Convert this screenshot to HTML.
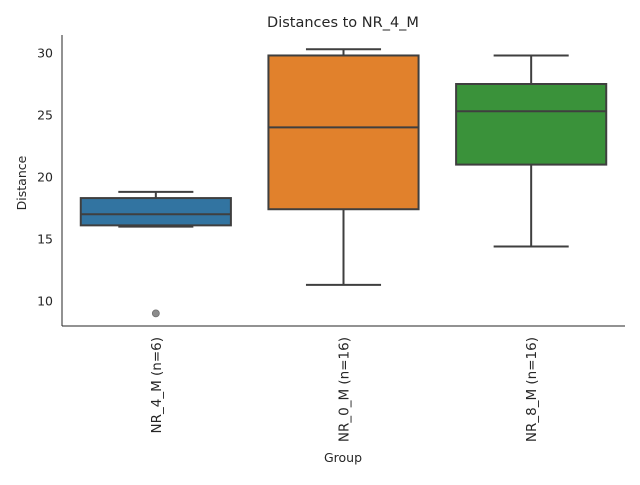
<!DOCTYPE html>
<html><head><meta charset="utf-8"><style>
body{margin:0;background:#fff;font-family:"Liberation Sans","DejaVu Sans",sans-serif}
svg text{font-family:"DejaVu Sans","Liberation Sans",sans-serif;fill:#262626}
</style></head><body>
<svg id="chart" width="640" height="480">
<text x="343" y="27" font-size="14.5" text-anchor="middle">Distances to NR_4_M</text>
<g id="ax"></g>
<text x="343" y="462" font-size="12.5" text-anchor="middle">Group</text>
<text transform="translate(26,183) rotate(-90)" font-size="12.5" text-anchor="middle">Distance</text>
</svg>
<script>
const categories=["NR_4_M (n=6)","NR_0_M (n=16)","NR_8_M (n=16)"];
const whiskerLow=[16.0,11.3,14.4];
const q1=[16.1,17.4,21.0];
const medians=[17.0,24.0,25.3];
const q3=[18.3,29.8,27.5];
const whiskerHigh=[18.8,30.3,29.8];
const outliers=[[9.0],[],[]];
const yTicks=[10,15,20,25,30];
const colors=["#3274a1","#e1812c","#3a923a"];
const L=62,R=625,T=35,B=326;
const y=v=>53+(30-v)*12.4;
const band=(R-L)/categories.length;
const xc=i=>L+band*(i+0.5);
const NS="http://www.w3.org/2000/svg";
const g=document.getElementById('ax');
function mk(t,a){const e=document.createElementNS(NS,t);for(const k in a)e.setAttribute(k,a[k]);g.appendChild(e);return e;}
let s=mk('line',{x1:L,y1:T,x2:L,y2:B,stroke:'#262626','stroke-width':1});


s=mk('line',{x1:L,y1:B,x2:R,y2:B,stroke:'#262626','stroke-width':1});


yTicks.forEach(v=>{
 const t=mk('text',{x:L-9,y:y(v)+4.5,'font-size':12.5,'text-anchor':'end'});t.textContent=v;
 
 
});
const lc='#3f3f3f',bw=band*0.8;
categories.forEach((c,i)=>{
 const x=xc(i);
 let e=mk('line',{x1:x,y1:y(whiskerLow[i]),x2:x,y2:y(q1[i]),stroke:lc,'stroke-width':2});
 
 
 e=mk('line',{x1:x,y1:y(whiskerHigh[i]),x2:x,y2:y(q3[i]),stroke:lc,'stroke-width':2});
 
 
 e=mk('line',{x1:x-bw/4,y1:y(whiskerLow[i]),x2:x+bw/4,y2:y(whiskerLow[i]),stroke:lc,'stroke-width':2});
 
 
 e=mk('line',{x1:x-bw/4,y1:y(whiskerHigh[i]),x2:x+bw/4,y2:y(whiskerHigh[i]),stroke:lc,'stroke-width':2});
 
 
 e=mk('rect',{x:x-bw/2,y:y(q3[i]),width:bw,height:y(q1[i])-y(q3[i]),fill:colors[i],stroke:lc,'stroke-width':2});
 
 
 e=mk('line',{x1:x-bw/2,y1:y(medians[i]),x2:x+bw/2,y2:y(medians[i]),stroke:lc,'stroke-width':2});
 
 
 outliers[i].forEach(o=>{
  const p=mk('circle',{cx:x,cy:y(o),r:3.5,fill:'#8c8c8c',stroke:'#6f6f6f','stroke-width':0.8});
  
  
 });
 const t=mk('text',{transform:`translate(${x+5},${B+11}) rotate(-90)`,'font-size':13.5,'text-anchor':'end'});
 t.textContent=c;
 
 
});
</script>
</body></html>
